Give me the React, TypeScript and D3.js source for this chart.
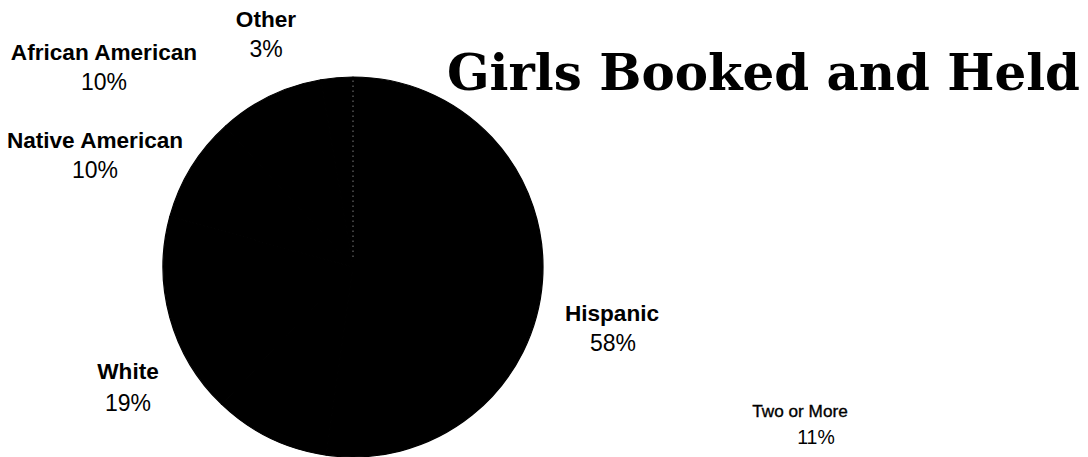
import React from "react";
import * as d3 from "d3";

const categories = ["Hispanic", "Two or More", "White", "Native American", "African American", "Other"];
const percents = [58, 11, 19, 10, 10, 3];
const title = "Girls Booked and Held";

// label layout (name line centre x / baseline y, percent line centre x / baseline y)
const labelLayout = [
  { nx: 612, ny: 321, px: 613, py: 351, size: 22.6, psize: 23, bold: true },
  { nx: 800, ny: 417, px: 816, py: 444, size: 17.2, psize: 19.5, bold: false },
  { nx: 128, ny: 379, px: 128, py: 411, size: 22.6, psize: 23, bold: true },
  { nx: 95, ny: 148, px: 95, py: 178, size: 22.6, psize: 23, bold: true },
  { nx: 104, ny: 60, px: 104, py: 90, size: 22.6, psize: 23, bold: true },
  { nx: 266, ny: 27, px: 266, py: 57, size: 22.6, psize: 23, bold: true },
];

const W = 1088;
const H = 457;
const cx = 353;
const cy = 267;
const R = 190;

export default function App() {
  const pie = d3.pie<number>().sort(null).value((d) => d)(percents);
  const arc = d3.arc<d3.PieArcDatum<number>>().innerRadius(0).outerRadius(R);
  const divider = d3.arc<d3.PieArcDatum<number>>().innerRadius(0).outerRadius(R - 1);
  return (
    <svg
      width={W}
      height={H}
      style={{ position: "fixed", left: 0, top: 0, background: "#fff" }}
      fontFamily="'Liberation Sans', Arial, sans-serif"
    >
      <rect x={0} y={0} width={W} height={H} fill="#fff" />
      <g transform={`translate(${cx},${cy})`}>
        {pie.map((p, i) => (
          <path key={i} d={arc(p) || ""} fill="#000" stroke="#000" strokeWidth={1.2} strokeLinejoin="round" />
        ))}
        {pie.slice(0, 1).map((p, i) => {
          const a = p.startAngle;
          const r = R - 1;
          return (
            <line
              key={"d" + i}
              x1={0}
              y1={-10}
              x2={Math.sin(a) * r}
              y2={-Math.cos(a) * r}
              stroke="#8a8a8a"
              strokeWidth={0.9}
              strokeDasharray="1.5 3.5"
            />
          );
        })}
      </g>
      <text
        x={447}
        y={90}
        fontFamily="'DejaVu Serif', 'Liberation Serif', serif"
        fontWeight="bold"
        fontSize={50}
        textLength={633}
        lengthAdjust="spacingAndGlyphs"
        fill="#000"
      >
        {title}
      </text>
      {categories.map((c, i) => {
        const l = labelLayout[i];
        return (
          <g key={c} fill="#000" textAnchor="middle">
            <text
              x={l.nx}
              y={l.ny}
              fontSize={l.size}
              fontWeight={l.bold ? "bold" : "normal"}
              stroke={l.bold ? "none" : "#000"}
              strokeWidth={l.bold ? 0 : 0.35}
            >
              {c}
            </text>
            <text x={l.px} y={l.py} fontSize={l.psize}>
              {percents[i]}%
            </text>
          </g>
        );
      })}
    </svg>
  );
}
